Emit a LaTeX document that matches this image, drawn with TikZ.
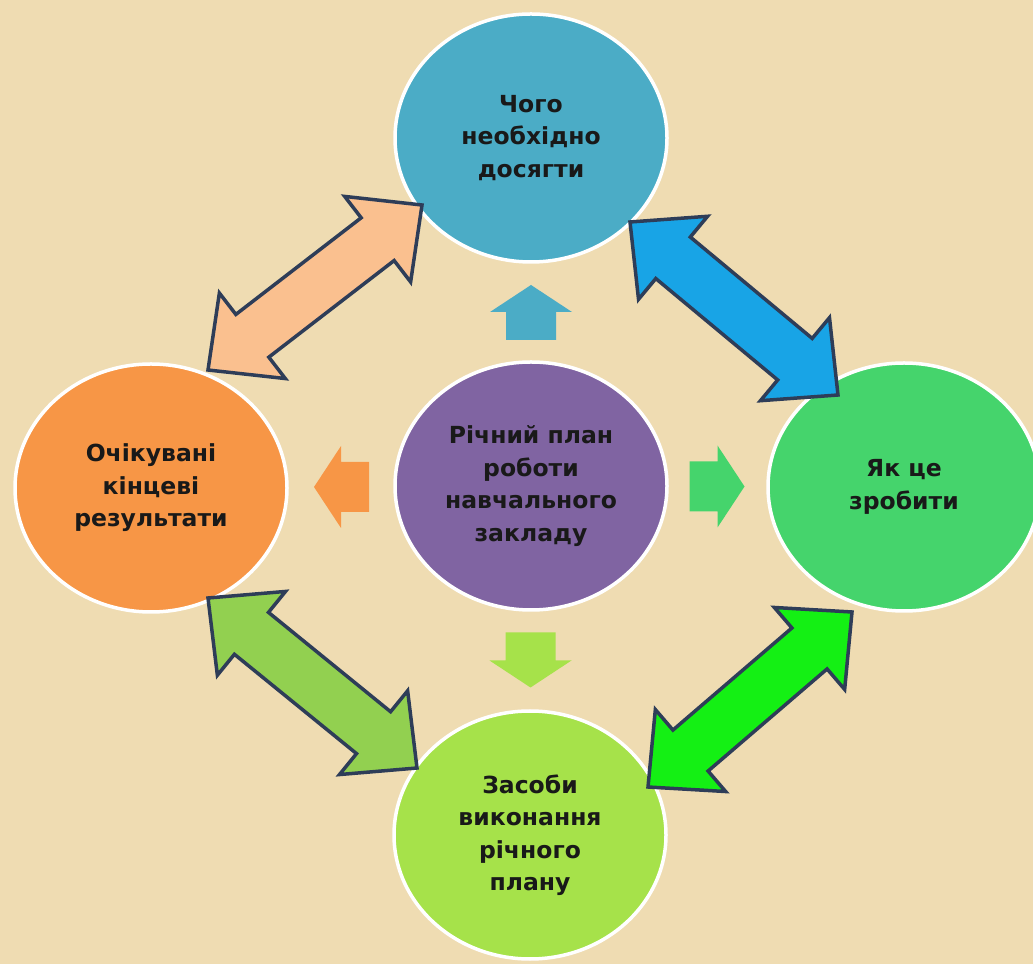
\documentclass[tikz,border=0pt]{standalone}
\usepackage{fontspec}
\setmainfont{DejaVu Sans}
\usetikzlibrary{shapes.geometric,calc}

\definecolor{paper}{HTML}{EFDCB2}
\definecolor{goalblue}{HTML}{4BACC6}
\definecolor{hubpurple}{HTML}{8064A2}
\definecolor{resorange}{HTML}{F79646}
\definecolor{howgreen}{HTML}{45D46C}
\definecolor{meanslime}{HTML}{A6E24A}
\definecolor{peach}{HTML}{FAC08F}
\definecolor{skyblue}{HTML}{18A4E6}
\definecolor{leafgreen}{HTML}{92D050}
\definecolor{brightgreen}{HTML}{14F014}
\definecolor{arrline}{HTML}{2E3D58}

\tikzset{
  bubble/.style={ellipse, draw=white, line width=3.5pt, minimum width=272pt,
    minimum height=248pt, inner sep=0pt, align=center, text=black!90,
    font=\bfseries\fontsize{23.5}{32.5}\selectfont},
  dblarr/.style={draw=arrline, line width=3.5pt, line join=miter},
}

% double block arrow from #1 to #2
\newcommand{\dblarrow}[3]{%
  \filldraw[dblarr, fill=#3] (#1)
    -- ($(#1)!56pt!(#2)!54pt!90:(#2)$) -- ($(#1)!56pt!(#2)!27pt!90:(#2)$)
    -- ($(#2)!56pt!(#1)!27pt!-90:(#1)$) -- ($(#2)!56pt!(#1)!54pt!-90:(#1)$)
    -- (#2)
    -- ($(#2)!56pt!(#1)!54pt!90:(#1)$) -- ($(#2)!56pt!(#1)!27pt!90:(#1)$)
    -- ($(#1)!56pt!(#2)!27pt!-90:(#2)$) -- ($(#1)!56pt!(#2)!54pt!-90:(#2)$)
    -- cycle;}

% small block arrow at #1, turned by #2
\newcommand{\blockarr}[3]{%
  \begin{scope}[shift={(#1)}, rotate=#2]
    \fill[#3] (-28,-25) -- (0,-25) -- (0,-41) -- (27,0) -- (0,41) -- (0,25) -- (-28,25) -- cycle;
  \end{scope}}

\begin{document}
\begin{tikzpicture}[x=1pt, y=1pt]
  \clip (0,0) rectangle (1033,964);
  \fill[paper] (0,0) rectangle (1033,964);

  \node[bubble, fill=goalblue] (goal) at (531,826) {Чого\\необхідно\\досягти};
  \node[bubble, fill=hubpurple] (hub) at (531,478) {Річний план\\роботи\\навчального\\закладу};
  \node[bubble, fill=resorange] (results) at (151,476) {Очікувані\\кінцеві\\результати};
  \node[bubble, fill=howgreen] (howto) at (904,477) {Як це\\зробити};
  \node[bubble, fill=meanslime] (means) at (530,129) {Засоби\\виконання\\річного\\плану};

  \blockarr{$(hub)!0.5!(goal)$}{90}{goalblue}
  \blockarr{$(hub)!0.5!(results)$}{180}{resorange}
  \blockarr{$(hub)!0.5!(howto)$}{0}{howgreen}
  \blockarr{$(hub)!0.5!(means)$}{-90}{meanslime}

  \coordinate (a1) at ($(results)+(57,118)$);
  \coordinate (b1) at ($(goal)+(-109,-67)$);
  \coordinate (a2) at ($(goal)+(99,-84)$);
  \coordinate (b2) at ($(howto)+(-66,92)$);
  \coordinate (a3) at ($(results)+(57,-110)$);
  \coordinate (b3) at ($(means)+(-113,67)$);
  \coordinate (a4) at ($(means)+(118,48)$);
  \coordinate (b4) at ($(howto)+(-52,-125)$);

  \dblarrow{a1}{b1}{peach}
  \dblarrow{a2}{b2}{skyblue}
  \dblarrow{a3}{b3}{leafgreen}
  \dblarrow{a4}{b4}{brightgreen}
\end{tikzpicture}
\end{document}
